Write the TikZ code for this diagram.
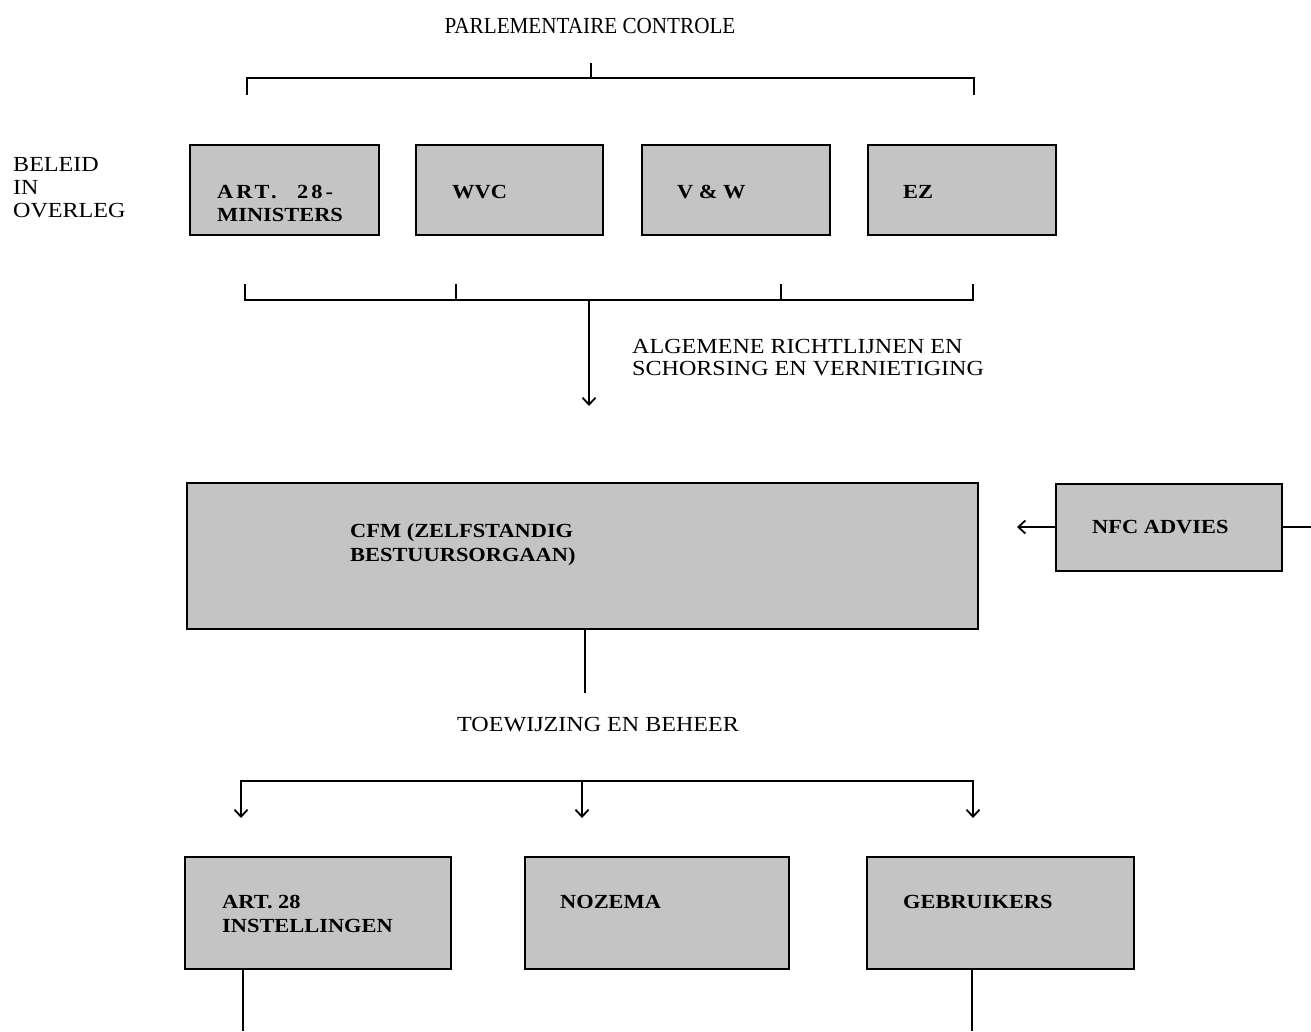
\documentclass[tikz,border=0pt]{standalone}
\usepackage{fontspec}
\setmainfont{Liberation Serif}[FakeStretch=1.12]
\newfontfamily\condfont{Liberation Serif}[FakeStretch=0.92]
\usetikzlibrary{arrows.meta}
\tikzset{
  box/.style={draw=black, line width=1.9pt, fill=black!23, inner sep=0pt, minimum width=#1},
  boxtxt/.style={anchor=base west, inner sep=0pt, font=\fontsize{20}{23}\selectfont\bfseries},
  lbl/.style={anchor=base west, inner sep=0pt, font=\fontsize{21.5}{24}\selectfont},
  conn/.style={line width=1.9pt, line cap=rect},
  arr/.style={line width=1.9pt, -{Straight Barb[length=7pt,width=13pt,line width=1.8pt]}},
}
\begin{document}
\begin{tikzpicture}[x=1pt,y=-1pt]
\useasboundingbox (0,0) rectangle (1311,1031);
% top label
\node[anchor=base, inner sep=0pt, font=\condfont\fontsize{23}{26}\selectfont] (parl) at (590,33) {PARLEMENTAIRE CONTROLE};
\node[lbl] (bel1) at (13,171) {BELEID};
\node[lbl] (bel2) at (13,194) {IN};
\node[lbl] (bel3) at (13,217) {OVERLEG};
% top row boxes
\node[box=189pt, minimum height=90pt] (m28) at (284.5,190) {};
\node[box=187pt, minimum height=90pt] (wvc) at (509.5,190) {};
\node[box=188pt, minimum height=90pt] (vw) at (736,190) {};
\node[box=188pt, minimum height=90pt] (ez) at (962,190) {};
\node[boxtxt] (m28a) at (217,198) {\addfontfeature{LetterSpace=15}ART.\hspace{12pt} 28-};
\node[boxtxt] (m28b) at (217,221) {MINISTERS};
\node[boxtxt] (wvct) at (452,198) {WVC};
\node[boxtxt] (vwt) at (677,198) {V \& W};
\node[boxtxt] (ezt) at (903,198) {EZ};
% top bracket
\coordinate (pt) at (591,64);
\coordinate (pm) at (591,78);
\coordinate (pl) at (247,94);
\coordinate (pr) at (974,94);
\draw[conn] (pt) -- (pm);
\draw[conn] (pl) |- (pm) -| (pr);
% lower bracket
\coordinate (bl) at (245,285);
\coordinate (br) at (973,285);
\coordinate (bm) at (589,300);
\coordinate (b2) at (456,285);
\coordinate (b3) at (781,285);
\coordinate (btip) at (589,406);
\draw[conn] (bl) |- (bm) -| (br);
\draw[conn] (b2) -- (b2 |- bm);
\draw[conn] (b3) -- (b3 |- bm);
\draw[arr] (bm) -- (btip);
\node[lbl] (alg1) at (632,353) {ALGEMENE RICHTLIJNEN EN};
\node[lbl] (alg2) at (632,375) {SCHORSING EN VERNIETIGING};
% CFM and NFC
\node[box=791pt, minimum height=146pt] (cfm) at (582.5,556) {};
\node[boxtxt] (cfm1) at (350,537) {CFM (ZELFSTANDIG};
\node[boxtxt] (cfm2) at (350,561) {BESTUURSORGAAN)};
\node[box=226pt, minimum height=87pt] (nfc) at (1169,527.5) {};
\node[boxtxt] (nfct) at (1092,533) {NFC ADVIES};
\coordinate (nfctip) at (1017,527);
\coordinate (nfcout) at (1311,527);
\draw[arr] (nfc.west |- nfctip) -- (nfctip);
\draw[conn, line cap=butt] (nfc.east |- nfcout) -- (nfcout);
% CFM down
\coordinate (cfmd) at (585,693);
\draw[conn, line cap=butt] (cfm.south -| cfmd) -- (cfmd);
\node[lbl] (toew) at (457,731) {TOEWIJZING EN BEHEER};
% distribution
\coordinate (dl) at (241,781);
\coordinate (dm) at (582,781);
\coordinate (dr) at (973,781);
\draw[conn] (dl) -- (dr);
\draw[arr] (dl) -- ++(0,37) coordinate (dlt);
\draw[arr] (dm) -- ++(0,37) coordinate (dmt);
\draw[arr] (dr) -- ++(0,37) coordinate (drt);
% bottom row
\node[box=266pt, minimum height=112pt] (inst) at (318,913) {};
\node[box=264pt, minimum height=112pt] (noz) at (657,913) {};
\node[box=267pt, minimum height=112pt] (geb) at (1000.5,913) {};
\node[boxtxt] (inst1) at (222,908) {ART. 28};
\node[boxtxt] (inst2) at (222,932) {INSTELLINGEN};
\node[boxtxt] (nozt) at (560,908) {NOZEMA};
\node[boxtxt] (gebt) at (903,908) {GEBRUIKERS};
\coordinate (instd) at (243,1031);
\coordinate (gebd) at (972,1031);
\draw[conn, line cap=butt] (inst.south -| instd) -- (instd);
\draw[conn, line cap=butt] (geb.south -| gebd) -- (gebd);
\end{tikzpicture}
\end{document}
